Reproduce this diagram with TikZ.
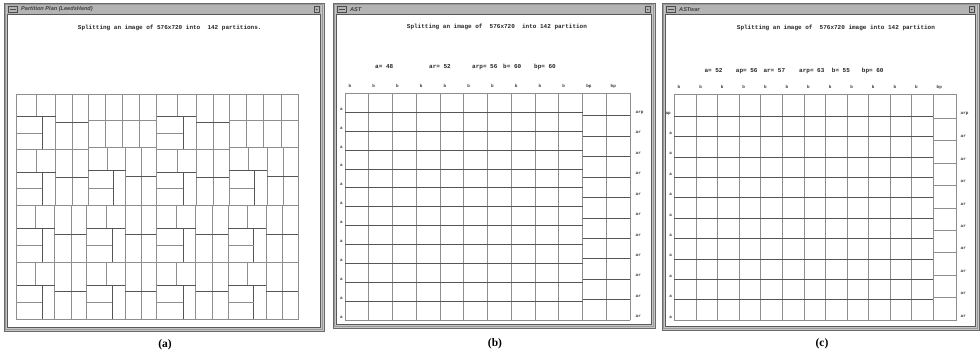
\documentclass[tikz,border=0pt]{standalone}
\usepackage{fontspec}
\setmainfont{Liberation Serif}
\newfontfamily\monof{Liberation Mono}
\newfontfamily\titf{Liberation Sans}
\definecolor{framec}{HTML}{C6C6C6}
\definecolor{framedk}{HTML}{6A6A6A}
\definecolor{titlebg}{HTML}{B4B4B4}
\definecolor{gridc}{HTML}{8E8E8E}
\definecolor{gridd}{HTML}{555555}
\newcommand{\pinw}[4]{%
 \pgfmathsetmacro\pxa{#1+0.278*(#3-#1)}%
 \pgfmathsetmacro\pxh{#1+0.366*(#3-#1)}%
 \pgfmathsetmacro\pxm{#1+0.547*(#3-#1)}%
 \pgfmathsetmacro\pxr{#1+0.778*(#3-#1)}%
 \pgfmathsetmacro\pyt{#2+0.397*(#4-#2)}%
 \pgfmathsetmacro\pyh{#2+0.700*(#4-#2)}%
 \pgfmathsetmacro\pyr{#2+0.500*(#4-#2)}%
 \draw[cell] (#1,#2) rectangle (#3,#4);
 \draw[cell] (\pxm,#2) -- (\pxm,#4);
 \draw[cell] (\pxa,#2) -- (\pxa,\pyt);
 \draw[cellh] (#1,\pyt) -- (\pxm,\pyt);
 \draw[cellh] (\pxh,\pyt) -- (\pxh,#4);
 \draw[cell] (#1,\pyh) -- (\pxh,\pyh);
 \draw[cell] (\pxr,#2) -- (\pxr,#4);
 \draw[cellh] (\pxm,\pyr) -- (#3,\pyr);
}
\newcommand{\quadg}[4]{%
 \draw[cell] (#1,#2) rectangle (#3,#4);
 \foreach \q in {1,2,3} {\draw[cell] ({#1+\q*(#3-#1)/4},#2) -- ({#1+\q*(#3-#1)/4},#4);}
 \draw[cell] (#1,{(#2+#4)/2}) -- (#3,{(#2+#4)/2});
}
\newcommand{\wind}[6]{% x0 y0 x1 y1 title name
 \fill[framec] (#1,#2) rectangle (#3,#4);
 \draw[framedk, line width=0.9pt] (#1,#2) rectangle (#3,#4);
 \draw[gray!80, line width=0.4pt] (#1+1.5,#2+1.5) rectangle (#3-1.5,#4-1.5);
 \fill[white] (#1+3.5,#2+11.5) rectangle (#3-3.5,#4-3.5);
 \draw[gray!70!black, line width=0.5pt] (#1+3.5,#2+11.5) rectangle (#3-3.5,#4-3.5);
 \fill[titlebg] (#1+3,#2+2) rectangle (#3-3,#2+10.5);
 \draw[gray!60!black, line width=0.3pt] (#1+4.5,#2+3) rectangle (#1+13,#2+9.5);
 \draw[black!70, line width=0.9pt] (#1+6,#2+6.25) -- (#1+11.5,#2+6.25);
 \node[wtitle] (#6) at (#1+17,#2+6.3) {#5};
 \draw[gray!60!black, line width=0.3pt] (#3-10,#2+3) rectangle (#3-4.5,#2+9.5);
 \fill[black!70] (#3-7.25,#2+6.5) circle (0.8);
}
\begin{document}
\begin{tikzpicture}[x=1pt,y=-1pt,
 cell/.style={draw=gridc, line width=0.6pt},
 cellh/.style={draw=gridd, line width=0.55pt},
 msg/.style={font=\monof\bfseries\fontsize{6}{6}\selectfont, inner sep=0, anchor=west, text=black!85},
 lab/.style={font=\monof\bfseries\fontsize{4.3}{5}\selectfont, inner sep=0, text=black!80},
 captxt/.style={font=\bfseries\fontsize{11.5}{12}\selectfont, inner sep=0},
 wtitle/.style={font=\titf\bfseries\itshape\fontsize{5.6}{6}\selectfont, inner sep=0, anchor=west, text=black!75}]
\useasboundingbox (0,0) rectangle (980,356);
\fill[white] (0,0) rectangle (980,356);

% ---------- window (a)
\wind{4}{3}{324}{331}{Partition Plan (LeedsHand)}{ta}
\node[msg] (ma) at (77.7,28.3) {Splitting an image of 576x720 into\ \ 142 partitions.};
% top half
\pinw{16}{94}{88.3}{149.7}
\pinw{16}{149.7}{88.3}{205.5}
\quadg{88.3}{94}{156.7}{147}
\pinw{88.3}{147}{156.7}{205.5}
\pinw{156.7}{94}{229}{149.7}
\pinw{156.7}{149.7}{229}{205.5}
\quadg{229}{94}{298.3}{147}
\pinw{229}{147}{298.3}{205.5}
% bottom half
\foreach \xa/\xb in {16/86.7, 86.7/156.7, 156.7/228, 228/298.3} {
  \pinw{\xa}{205.5}{\xb}{262.7}
  \pinw{\xa}{262.7}{\xb}{319.3}
}
\draw[cell] (16,94) rectangle (298.3,319.3);
\node[captxt] (capa) at (165,345) {(a)};

% ---------- window (b)
\wind{333}{3}{655}{328}{AST}{tb}
\node[msg] (mb) at (406.7,27) {Splitting an image of\ \ 576x720\ \ into 142 partition};
\node[msg] (pb1) at (375,66.7) {a= 48};
\node[msg] (pb2) at (429,66.7) {ar= 52};
\node[msg] (pb3) at (472,66.7) {arp= 56};
\node[msg] (pb4) at (503,66.7) {b= 60};
\node[msg] (pb5) at (534,66.7) {bp= 60};
\foreach \i in {0,...,12} {\draw[cell] ({345+\i*23.75},93.3) -- ({345+\i*23.75},320);}
\foreach \j in {1,...,11} {\draw[cellh] (345,{93.3+\j*18.89}) -- (582.5,{93.3+\j*18.89});}
\draw[cell] (345,93.3) -- (630,93.3);
\draw[cell] (345,320) -- (630,320);
\foreach \k in {0,...,9} {\draw[cellh] (582.5,{115.7+\k*20.43}) -- (630,{115.7+\k*20.43});}
\foreach \i in {0,...,9} {\node[lab, anchor=west] (bt\i) at ({345+\i*23.75+3.3},86) {b};}
\node[lab, anchor=west] (btp1) at (586.2,86) {bp};
\node[lab, anchor=west] (btp2) at (610.5,86) {bp};
\foreach \j in {1,...,12} {\node[lab] (bl\j) at (341.5,{93.3+\j*18.89-3}) {a};}
\node[lab, anchor=west] (brp) at (635.5,112.3) {arp};
\foreach \k in {1,...,10} {\node[lab, anchor=west] (br\k) at (635.5,{115.7+\k*20.43-3.4}) {ar};}
\node[captxt] (capb) at (495,344) {(b)};

% ---------- window (c)
\wind{662}{3}{979}{330}{ASTwar}{tc}
\node[msg] (mc) at (736.7,28.3) {Splitting an image of\ \ 576x720 image into 142 partition};
\node[msg] (pc1) at (704.3,70.7) {a= 52};
\node[msg] (pc2) at (735.7,70.7) {ap= 56};
\node[msg] (pc3) at (763.3,70.7) {ar= 57};
\node[msg] (pc4) at (799,70.7) {arp= 63};
\node[msg] (pc5) at (831.7,70.7) {b= 55};
\node[msg] (pc6) at (861.7,70.7) {bp= 60};
\foreach \i in {0,...,12} {\draw[cell] ({674.3+\i*21.583},94) -- ({674.3+\i*21.583},320);}
\draw[cell] (956.7,94) -- (956.7,320);
\draw[cell] (674.3,94) -- (956.7,94);
\draw[cell] (674.3,320) -- (956.7,320);
\draw[cellh] (674.3,116) -- (933.3,116);
\foreach \k in {1,...,9} {\draw[cellh] (674.3,{116+\k*20.4}) -- (933.3,{116+\k*20.4});}
\foreach \k in {0,...,8} {\draw[cell] (933.3,{118.3+\k*22.41}) -- (956.7,{118.3+\k*22.41});}
\foreach \i in {0,...,11} {\node[lab, anchor=west] (ct\i) at ({674.3+\i*21.583+3.2},87.3) {b};}
\node[lab, anchor=west] (ctp) at (936.5,87.3) {bp};
\node[lab, anchor=west] (clp) at (665.3,113.3) {ap};
\foreach \k in {1,...,10} {\node[lab] (cl\k) at (670.7,{116+\k*20.4-3}) {a};}
\node[lab, anchor=west] (crp) at (960.5,114) {arp};
\foreach \k in {1,...,9} {\node[lab, anchor=west] (cr\k) at (960.5,{118.3+\k*22.41-4}) {ar};}
\node[captxt] (capc) at (822,344) {(c)};
\end{tikzpicture}
\end{document}
